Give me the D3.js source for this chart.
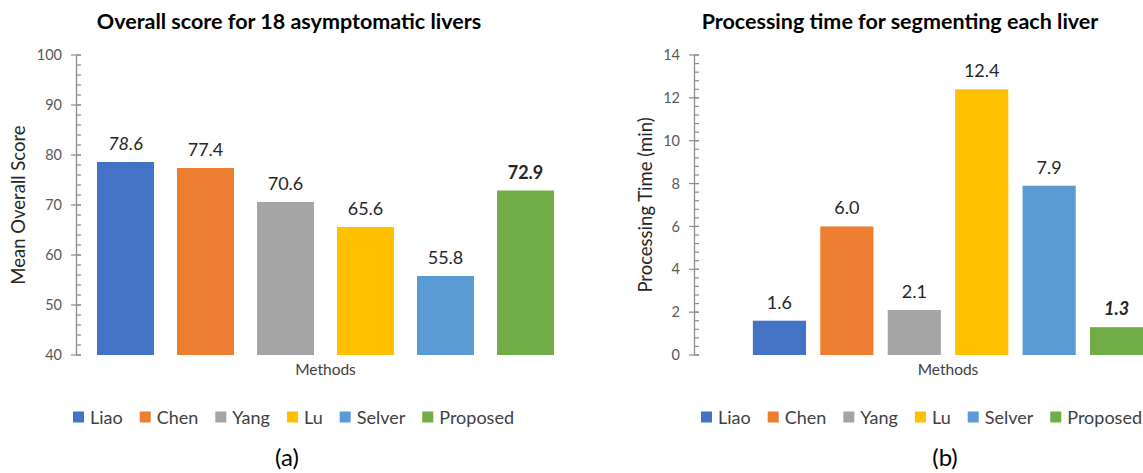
<!DOCTYPE html>
<html>
<head>
<meta charset="utf-8">
<script src="https://cdn.jsdelivr.net/npm/d3@7"></script>
<style>
  html, body { margin: 0; padding: 0; background: #fff; }
  svg { display: block; font-family: Lato, "Noto Sans", sans-serif; }
</style>
</head>
<body>
<svg id="chart" width="1143" height="473"></svg>
<script>
// Methods compared in both panels
const methods = ["Liao", "Chen", "Yang", "Lu", "Selver", "Proposed"];
// Mean overall score for 18 asymptomatic livers
const overallScores = [78.6, 77.4, 70.6, 65.6, 55.8, 72.9];
// Processing time (minutes) for segmenting each liver
const processingTimes = [1.6, 6.0, 2.1, 12.4, 7.9, 1.3];
// Axis tick values
const scoreTicks = [40, 50, 60, 70, 80, 90, 100];
const timeTicks = [0, 2, 4, 6, 8, 10, 12, 14];

const colors = d3.scaleOrdinal()
  .domain(methods)
  .range(["#4472C4", "#ED7D31", "#A5A5A5", "#FFC000", "#5B9BD5", "#70AD47"]);

const svg = d3.select("#chart");

function drawPanel(cfg) {
  const g = svg.append("g");

  const x = d3.scaleBand()
    .domain(methods)
    .range(cfg.xRange)
    .paddingInner(cfg.padInner)
    .paddingOuter(cfg.padOuter);

  const y = d3.scaleLinear()
    .domain(cfg.domain)
    .range([355, 55]);

  // bars
  g.selectAll("rect.bar")
    .data(methods)
    .join("rect")
    .attr("class", "bar")
    .attr("x", d => x(d))
    .attr("width", x.bandwidth())
    .attr("y", (d, i) => y(cfg.values[i]))
    .attr("height", (d, i) => y(cfg.domain[0]) - y(cfg.values[i]))
    .attr("fill", d => colors(d));

  // value labels
  g.selectAll("text.val")
    .data(methods)
    .join("text")
    .attr("class", "val")
    .attr("x", d => x(d) + x.bandwidth() / 2)
    .attr("y", (d, i) => y(cfg.values[i]) - 12)
    .attr("text-anchor", "middle")
    .attr("font-size", 18)
    .attr("fill", "#262626")
    .attr("font-style", d => (cfg.emphasis[d] || "").includes("italic") ? "italic" : "normal")
    .attr("font-weight", d => (cfg.emphasis[d] || "").includes("bold") ? "bold" : "normal")
    .text((d, i) => cfg.values[i].toFixed(1));

  // y axis: major ticks cross the line, minor ticks on the inside
  const axisX = cfg.xRange[0];
  const axis = d3.axisLeft(y)
    .tickValues(cfg.ticks)
    .tickSize(0)
    .tickPadding(14)
    .tickFormat(d3.format("d"));
  const ag = g.append("g")
    .attr("transform", `translate(${axisX},0)`)
    .call(axis);
  ag.select(".domain").attr("stroke", "#8C8C8C").attr("stroke-width", 1.3);
  ag.selectAll(".tick text")
    .attr("font-size", 14.5)
    .attr("fill", "#595959")
    .attr("font-family", "Lato, sans-serif");

  const minor = d3.range(cfg.domain[0], cfg.domain[1] + 1e-9, cfg.minorStep);
  ag.selectAll("line.minor")
    .data(minor)
    .join("line")
    .attr("class", "minor")
    .attr("x1", 0).attr("x2", 5)
    .attr("y1", d => y(d)).attr("y2", d => y(d))
    .attr("stroke", "#8C8C8C").attr("stroke-width", 1.2);
  ag.selectAll("line.major")
    .data(cfg.ticks)
    .join("line")
    .attr("class", "major")
    .attr("x1", -5).attr("x2", 5)
    .attr("y1", d => y(d)).attr("y2", d => y(d))
    .attr("stroke", "#8C8C8C").attr("stroke-width", 1.2);

  // y axis title
  g.append("text")
    .attr("transform", `translate(${cfg.yTitleX},205) rotate(-90)`)
    .attr("text-anchor", "middle")
    .attr("font-size", 18.5)
    .attr("fill", "#262626")
    .text(cfg.yTitle);

  // x axis title
  const cx = (cfg.xRange[0] + cfg.xRange[1]) / 2;
  g.append("text")
    .attr("x", cx)
    .attr("y", 375)
    .attr("text-anchor", "middle")
    .attr("font-size", 15.5)
    .attr("fill", "#404040")
    .text("Methods");

  // chart title
  g.append("text")
    .attr("x", cfg.titleX)
    .attr("y", 29)
    .attr("text-anchor", "middle")
    .attr("font-size", 21.5)
    .attr("font-weight", "bold")
    .attr("fill", "#000")
    .text(cfg.title);

  // legend
  const lg = g.append("g").attr("transform", `translate(${cfg.legendX},417)`);
  let lx = 0;
  methods.forEach(m => {
    lg.append("rect")
      .attr("x", lx).attr("y", -5.5)
      .attr("width", 11).attr("height", 11)
      .attr("fill", colors(m));
    const t = lg.append("text")
      .attr("x", lx + 17)
      .attr("y", 6.5)
      .attr("font-size", 18)
      .attr("fill", "#404040")
      .text(m);
    lx += 17 + t.node().getComputedTextLength() + 17;
  });

  // panel caption
  svg.append("text")
    .attr("x", cfg.captionX)
    .attr("y", 466)
    .attr("text-anchor", "middle")
    .attr("font-size", 24)
    .attr("fill", "#000")
    .text(cfg.caption);
}

drawPanel({
  values: overallScores,
  domain: [40, 100],
  ticks: scoreTicks,
  minorStep: 2,
  xRange: [76, 575],
  padInner: 0.2875,
  padOuter: 0.2625,
  emphasis: { Liao: "italic", Proposed: "bold" },
  yTitle: "Mean Overall Score",
  yTitleX: 25,
  title: "Overall score for 18 asymptomatic livers",
  titleX: 289,
  legendX: 73,
  caption: "(a)",
  captionX: 287
});

drawPanel({
  values: processingTimes,
  domain: [0, 14],
  ticks: timeTicks,
  minorStep: 0.4,
  xRange: [694, 1202],
  padInner: 0.2115,
  padOuter: 0.873,
  emphasis: { Proposed: "bold italic" },
  yTitle: "Processing Time (min)",
  yTitleX: 652,
  title: "Processing time for segmenting each liver",
  titleX: 900,
  legendX: 701,
  caption: "(b)",
  captionX: 945
});
</script>
</body>
</html>
